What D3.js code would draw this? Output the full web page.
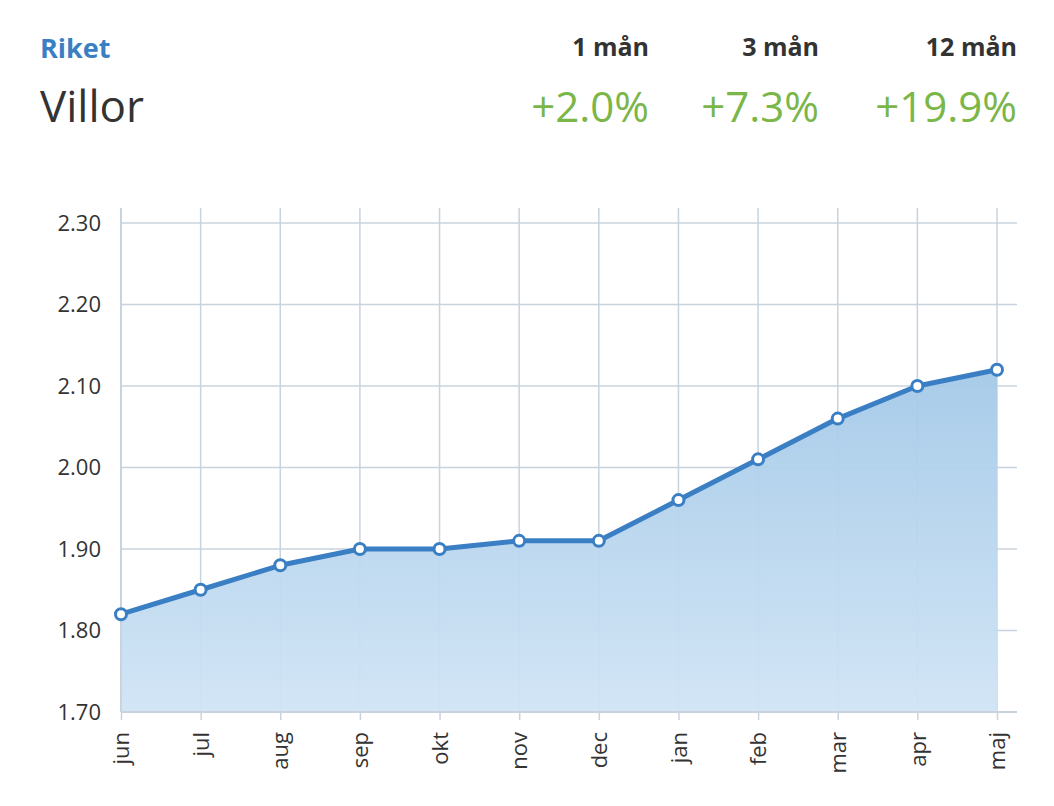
<!DOCTYPE html>
<html><head><meta charset="utf-8">
<script src="https://cdn.jsdelivr.net/npm/d3@7"></script>
<style>body{margin:0;background:#fff;font-family:"Open Sans","Liberation Sans",sans-serif}</style>
</head><body><div id="chart"></div>
<script>
var months = ["jun","jul","aug","sep","okt","nov","dec","jan","feb","mar","apr","maj"];
var values = [1.82,1.85,1.88,1.90,1.90,1.91,1.91,1.96,2.01,2.06,2.10,2.12];
var yTicks = [1.70,1.80,1.90,2.00,2.10,2.20,2.30];
var periods = ["1 mån","3 mån","12 mån"];
var changes = ["+2.0%","+7.3%","+19.9%"];

var width = 1054, height = 806;
var svg = d3.select("#chart").append("svg").attr("width", width).attr("height", height);

var x = d3.scalePoint().domain(months).range([121, 997]);
var y = d3.scaleLinear().domain([1.70, 2.30]).range([712, 223]);

// header
svg.append("text").attr("x", 40).attr("y", 58).attr("font-size", 27).attr("font-weight", "bold")
  .attr("fill", "#3a7fc4").text("Riket");
svg.append("text").attr("x", 40).attr("y", 122).attr("font-size", 44).attr("fill", "#333").text("Villor");
var colX = [649, 819, 1017];
periods.forEach(function(p, i){
  svg.append("text").attr("x", colX[i]).attr("y", 56).attr("text-anchor", "end")
    .attr("font-size", 25).attr("font-weight", "bold").attr("fill", "#333").text(p);
  svg.append("text").attr("x", colX[i]).attr("y", 122).attr("text-anchor", "end")
    .attr("font-size", 42).attr("fill", "#7ab648").text(changes[i]);
});

// gradient
var grad = svg.append("defs").append("linearGradient").attr("id", "g")
  .attr("x1", 0).attr("y1", 0).attr("x2", 0).attr("y2", 1);
grad.append("stop").attr("offset", "0%").attr("stop-color", "#a4c9e8");
grad.append("stop").attr("offset", "100%").attr("stop-color", "#d0e4f5");

// grid
svg.append("g").selectAll("line").data(yTicks).enter().append("line")
  .attr("x1", 121).attr("x2", 1017).attr("y1", y).attr("y2", y)
  .attr("stroke", "#c8d3de").attr("stroke-width", 1.5);
svg.append("g").selectAll("line").data(months).enter().append("line")
  .attr("x1", x).attr("x2", x).attr("y1", 208).attr("y2", 712)
  .attr("stroke", "#c8d3de").attr("stroke-width", 1.5);

// area
var area = d3.area().x(function(d, i){ return x(months[i]); }).y0(y(1.70)).y1(function(d){ return y(d); });
svg.append("path").datum(values).attr("d", area).attr("fill", "url(#g)").attr("opacity", 0.95);

// axes
var yAxis = d3.axisLeft(y).tickValues(yTicks).tickFormat(d3.format(".2f")).tickSize(0).tickPadding(20);
var gy = svg.append("g").attr("transform", "translate(121,0)").call(yAxis);
gy.select(".domain").attr("d", "M0,208V712").attr("stroke", "#c8d3de").attr("stroke-width", 2);
gy.selectAll("text").attr("font-size", 22).attr("fill", "#333").attr("font-family", "Open Sans, sans-serif");

var xAxis = d3.axisBottom(x).tickSize(8).tickSizeOuter(0);
var gx = svg.append("g").attr("transform", "translate(0,712)").call(xAxis);
gx.select(".domain").attr("d", "M121,0H1017").attr("stroke", "#c8d3de").attr("stroke-width", 2);
gx.selectAll(".tick line").attr("stroke", "#c8d3de").attr("stroke-width", 1.5);
gx.selectAll("text").attr("font-size", 22).attr("fill", "#333").attr("font-family", "Open Sans, sans-serif")
  .attr("transform", "rotate(-90)").attr("text-anchor", "end").attr("x", -20).attr("y", 0).attr("dy", "0.35em");

// line + points
var line = d3.line().x(function(d, i){ return x(months[i]); }).y(function(d){ return y(d); });
svg.append("path").datum(values).attr("d", line).attr("fill", "none")
  .attr("stroke", "#3a7fc4").attr("stroke-width", 5).attr("stroke-linejoin", "round");
svg.append("g").selectAll("circle").data(values).enter().append("circle")
  .attr("cx", function(d, i){ return x(months[i]); }).attr("cy", y).attr("r", 5.5)
  .attr("fill", "#fff").attr("stroke", "#3a7fc4").attr("stroke-width", 3);
</script></body></html>
